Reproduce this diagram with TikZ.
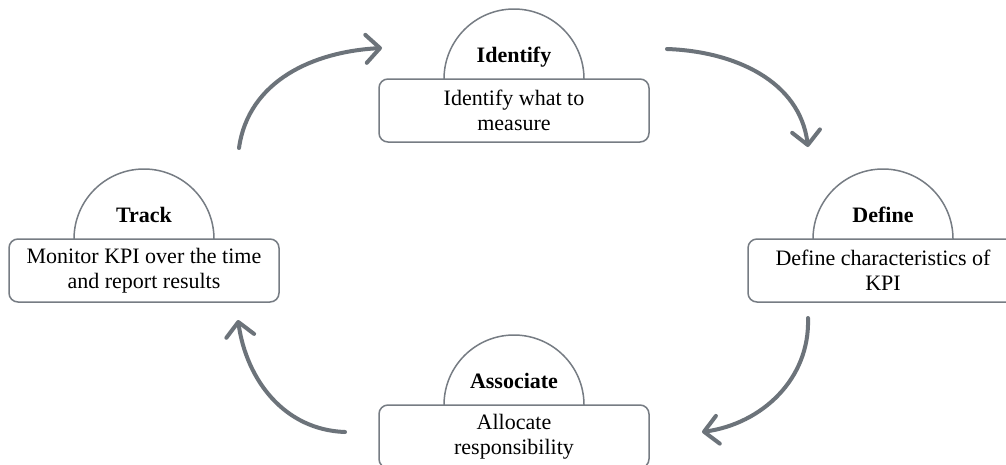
\documentclass[tikz,border=0pt]{standalone}
\usepackage{fontspec}
\setmainfont{Liberation Serif}
\usetikzlibrary{arrows.meta}
\definecolor{arrowgray}{RGB}{108,115,122}
\definecolor{boxgray}{RGB}{118,124,131}
\tikzset{
  stepbox/.style={draw=boxgray, line width=1.5pt, rounded corners=9pt, fill=white,
    minimum width=270pt, minimum height=63pt, align=center, inner sep=0pt,
    font=\fontsize{22pt}{25pt}\selectfont},
  titletext/.style={font=\fontsize{22pt}{25pt}\selectfont\bfseries, inner sep=0pt},
  cyclearrow/.style={draw=arrowgray, line width=4pt, line cap=round,
    -{Straight Barb[length=14pt,width=28pt,line cap=round,line join=round]}},
  dome/.style={draw=boxgray, line width=1.5pt}
}
\begin{document}
\begin{tikzpicture}[x=1pt,y=1pt]
\clip (0,0) rectangle (1006,-464);
\fill[white] (0,0) rectangle (1006,-464);
% domes first
\draw[dome] (444,-79) arc[start angle=180,end angle=0,radius=70];
\draw[dome] (74,-239) arc[start angle=180,end angle=0,radius=70];
\draw[dome] (813,-239) arc[start angle=180,end angle=0,radius=70];
\draw[dome] (444,-405) arc[start angle=180,end angle=0,radius=70];
% boxes
\node[stepbox] (identify) at (514,-110.5) {Identify what to\\measure};
\node[stepbox] (track) at (144,-270.5) {Monitor KPI over the time\\and report results};
\node[stepbox] (define) at (883,-270.5) {Define characteristics of\\KPI};
\node[stepbox] (associate) at (514,-436.5) {Allocate\\responsibility};
% titles
\node[titletext, anchor=base] (tIdentify) at ([yshift=16pt]identify.north) {Identify};
\node[titletext, anchor=base] (tTrack) at ([yshift=16pt]track.north) {Track};
\node[titletext, anchor=base] (tDefine) at ([yshift=16pt]define.north) {Define};
\node[titletext, anchor=base] (tAssociate) at ([yshift=16pt]associate.north) {Associate};
% arrow end points
\coordinate (a1s) at (239,-148);
\coordinate (a1e) at (382,-48);
\coordinate (a2s) at (667,-49);
\coordinate (a2e) at (808,-147);
\coordinate (a3s) at (808,-318);
\coordinate (a3e) at (702,-432);
\coordinate (a4s) at (345,-432);
\coordinate (a4e) at (238,-320);
\draw[cyclearrow] (a1s) to[out=82,in=183] (a1e);
\draw[cyclearrow] (a2s) to[out=-2,in=97] (a2e);
\draw[cyclearrow] (a3s) to[out=-88,in=8] (a3e);
\draw[cyclearrow] (a4s) to[out=178,in=-82] (a4e);
\end{tikzpicture}
\end{document}
